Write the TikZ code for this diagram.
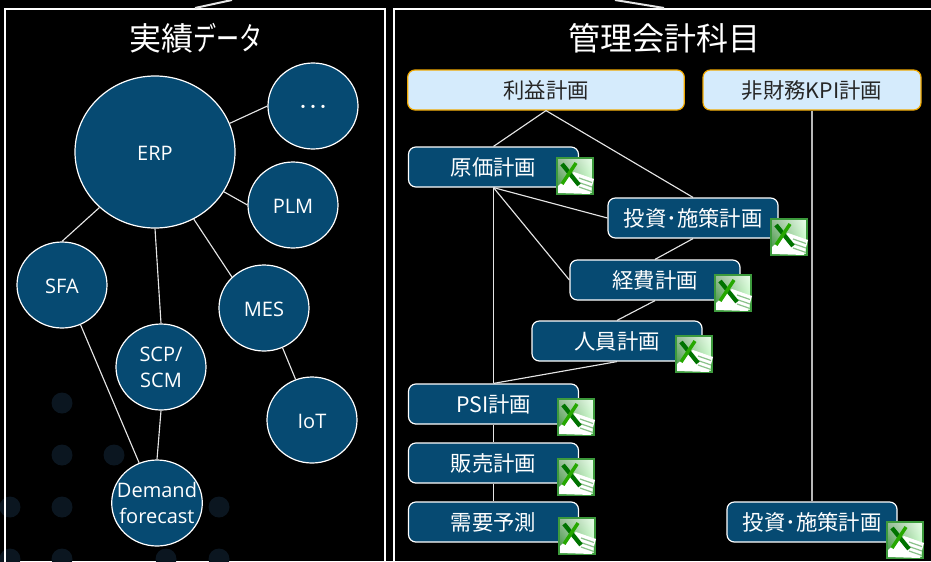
\documentclass[tikz,border=0pt]{standalone}
\usepackage{fontspec}
\setmainfont{Open Sans}
\newfontfamily\cjk{Noto Sans CJK JP}
\newfontfamily\cjkkana[FakeStretch=0.72]{Noto Sans CJK JP}
\usetikzlibrary{shapes.geometric,shadings}
\definecolor{navy}{HTML}{064A72}
\definecolor{pale}{HTML}{D5EBFC}
\definecolor{amber}{HTML}{F0A800}
\definecolor{faintdot}{HTML}{0B1620}
\definecolor{sheetgreen}{HTML}{3C9A3C}
\tikzstyle{frame}=[draw=white,line width=1.6pt,rectangle,minimum height=450pt,anchor=north,inner sep=0pt]
\tikzstyle{heading}=[text=white,font=\fontsize{24}{28}\selectfont,inner sep=0pt]
\tikzstyle{vertexbig}=[ellipse,draw=white,line width=0.9pt,fill=navy,text=white,align=center,minimum width=120pt,minimum height=114pt,inner sep=0pt,execute at begin node={\rule{0pt}{12.5pt}},font=\fontsize{15}{19.5}\selectfont]
\tikzstyle{vertex}=[vertexbig,minimum width=67.5pt,minimum height=64.5pt]
\tikzstyle{planbox}=[rectangle,rounded corners=5.5pt,draw=white,line width=0.9pt,fill=navy,text=white,minimum width=127.5pt,minimum height=30pt,inner sep=0pt,font=\cjk\fontsize{16}{19}\selectfont]
\tikzstyle{headbox}=[planbox,draw=amber,fill=pale,text=black!85]
\tikzstyle{link}=[draw=white!90!black,line width=0.85pt]
\tikzset{
  excelicon/.pic={
    \shade[lower left=green!45!black!80!white,lower right=green!25!white,upper left=green!35!black!40!white,upper right=green!8!white,draw=sheetgreen,line width=0.8pt] (-18,-18) rectangle (18,18);
    \fill[white] (-1,-4) -- (19,3) -- (15,18) -- (-17,17) -- (-17,10) -- cycle;
    \foreach \k in {0,1,2}
      \draw[sheetgreen!60,line width=0.9pt] (4,{2+\k*4.5}) -- (17,{6.5+\k*4.5});
    \draw[green!45!black,line width=3.2pt] (-13,-12) -- (4,9);
    \draw[green!60!black!85!yellow,line width=2.6pt] (1,-13) -- (-13,8);
  }
}
\begin{document}
\begin{tikzpicture}[x=0.75pt,y=-0.75pt]
    \clip (0,0) rectangle (931,561);
    \fill[black] (0,0) rectangle (931,561);
    \foreach \x/\y in {62/403,62/455,114/455,10/507,62/507,219/507,10/559,62/559,166/559,219/559}
    \fill[faintdot] (\x,\y) circle (10.5);

    \node[frame,minimum width=285pt] (frameleft) at (195,8) {};
    \node[frame,minimum width=405pt] (frameright) at (664,8) {};
    \coordinate (topleft) at (232,0);
    \coordinate (topright) at (615,0);
    \draw[link,line width=1.5pt] (frameleft.north) -- (topleft);
    \draw[link,line width=1.5pt] (frameright.north) -- (topright);

    \node[heading] (titleleft) at (196,38) {\cjk 実績\cjkkana データ};
    \node[heading] (titleright) at (664,38) {\cjk 管理会計科目};

    \node[vertexbig] (erp) at (155,152) {ERP};
    \node[vertex] (more) at (313,106) {\cjk ･･･};
    \node[vertex] (plm) at (293,205) {PLM};
    \node[vertex] (sfa) at (62,285) {SFA};
    \node[vertex] (mes) at (264,308) {MES};
    \node[vertex] (scp) at (161,367) {SCP/\\SCM};
    \node[vertex] (iot) at (312,420) {IoT};
    \node[vertex,inner sep=-6pt] (demand) at (157,503) {Demand\\forecast};

    \foreach \from/\to in {erp.21/more.west,erp.-30/plm.west,erp.-135/sfa.north,erp.south/scp.north,erp.-60/mes.136,mes.-65/iot.112,sfa.-65/demand.114,scp.south/demand.north}
    \draw[link] (\from) -- (\to);

    \node[headbox,minimum width=207.5pt] (profit) at (546,90) {利益計画};
    \node[headbox,minimum width=163.5pt] (kpi) at (812,90) {非財務KPI計画};
    \node[planbox] (cost) at (493.5,167) {原価計画};
    \node[planbox] (invest) at (693,218) {投資･施策計画};
    \node[planbox] (expense) at (655,280) {経費計画};
    \node[planbox] (staff) at (617,341) {人員計画};
    \node[planbox] (psi) at (493.5,404) {PSI計画};
    \node[planbox] (sales) at (493.5,463) {販売計画};
    \node[planbox] (forecast) at (493.5,522) {需要予測};
    \node[planbox] (investkpi) at (812,522) {投資･施策計画};

    \foreach \from/\to in {profit.south/cost.north,profit.south/invest.north,cost.south/invest.west,cost.south/expense.west,cost.south/psi.north,invest.south/expense.north,expense.south/staff.north,staff.south/psi.north,psi.south/sales.north,sales.south/forecast.north}
    \draw[link] (\from) -- (\to);
    \draw[link,draw=white!72!black] (kpi.south) -- (investkpi.north);

    \pic (iconcost) at (575,176) {excelicon};
    \pic (iconinvest) at (789,237) {excelicon};
    \pic (iconexpense) at (733,293) {excelicon};
    \pic (iconstaff) at (694,354) {excelicon};
    \pic (iconpsi) at (576,417) {excelicon};
    \pic (iconsales) at (576,477) {excelicon};
    \pic (iconforecast) at (577,536) {excelicon};
    \pic (iconkpi) at (905,540) {excelicon};
\end{tikzpicture}
\end{document}
